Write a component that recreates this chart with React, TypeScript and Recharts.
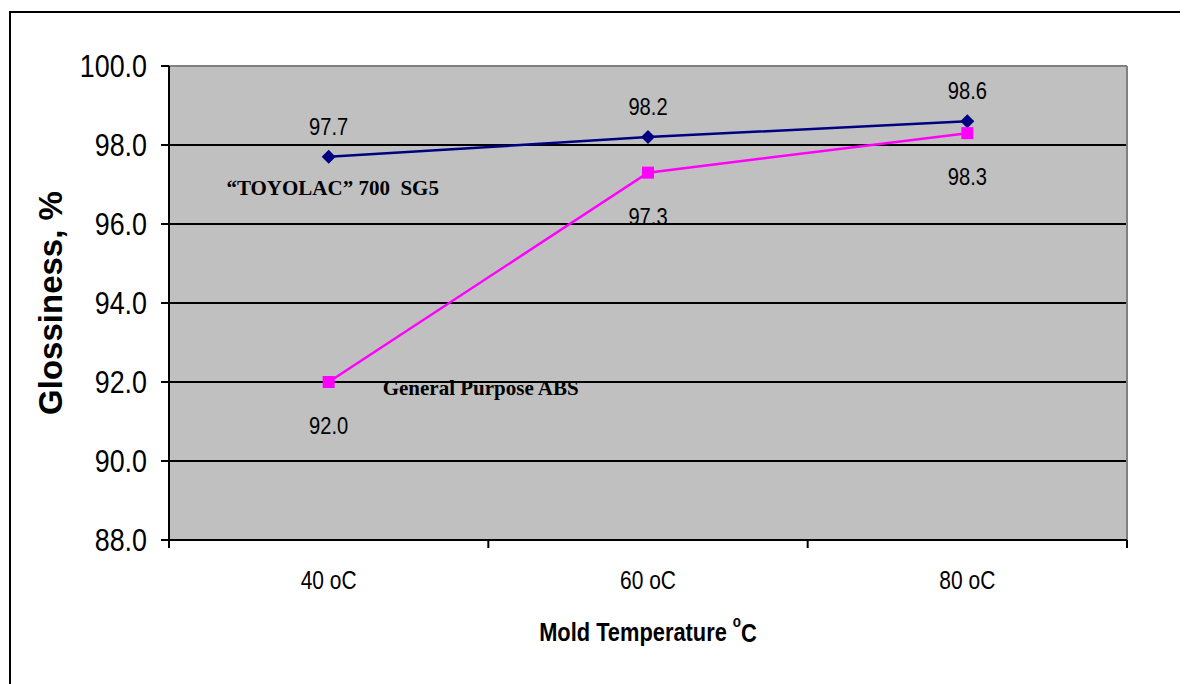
import { LineChart, Line, XAxis, YAxis, CartesianGrid, ReferenceDot, LabelList, Label } from 'recharts';

const temperatures = ['40 oC', '60 oC', '80 oC'];
const toyolac = [97.7, 98.2, 98.6];
const generalAbs = [92.0, 97.3, 98.3];
const yTicks = [88, 90, 92, 94, 96, 98, 100];

const data = temperatures.map((t, i) => ({ temp: t, toyolac: toyolac[i], abs: generalAbs[i] }));

const CHART_W = 1180;
const CHART_H = 676;
const MARGIN = { top: 58, right: 61, left: 0, bottom: 34 };
const YAXIS_W = 161;
const PLOT_W = CHART_W - MARGIN.left - MARGIN.right - YAXIS_W;

const SANS = "'Liberation Sans', Arial, sans-serif";
const SERIF = "'Liberation Serif', 'Times New Roman', serif";
const SQUEEZE = 0.84; // the original uses a narrow Arial; no narrow face here, so squeeze it

const NarrowText = ({ x, y, size, bold, anchor = 'middle', children }: any) => (
  <g transform={`translate(${x},${y}) scale(${SQUEEZE},1)`}>
    <text
      x={0}
      y={0}
      textAnchor={anchor}
      dominantBaseline="central"
      fontFamily={SANS}
      fontWeight={bold ? 'bold' : 'normal'}
      fontSize={size}
      fill="#000"
    >
      {children}
    </text>
  </g>
);

const Diamond = ({ cx, cy }: any) => (
  <path d={`M${cx},${cy - 7}L${cx + 7},${cy}L${cx},${cy + 7}L${cx - 7},${cy}Z`} fill="#000080" />
);

const Square = ({ cx, cy }: any) => (
  <rect x={cx - 6} y={cy - 6} width={12} height={12} fill="#FF00FF" />
);

// ticks sit on the category edges, labels at the centres (Excel style)
const BandTick = (props: any) => {
  const { x, y, payload, index } = props;
  const band = PLOT_W / temperatures.length;
  const left = x - band / 2;
  return (
    <g>
      <line x1={left} y1={y} x2={left} y2={y + 8} stroke="#000" strokeWidth={2} />
      {index === temperatures.length - 1 && (
        <line x1={x + band / 2} y1={y} x2={x + band / 2} y2={y + 8} stroke="#000" strokeWidth={2} />
      )}
      <NarrowText x={x} y={y + 40} size={25}>{payload.value}</NarrowText>
    </g>
  );
};

const ValueTick = (props: any) => {
  const { x, y, payload } = props;
  return (
    <NarrowText x={x} y={y} size={32} anchor="end">{Number(payload.value).toFixed(1)}</NarrowText>
  );
};

const valueLabel = (dy: number) => (props: any) => {
  const { x, y, value } = props;
  return <NarrowText x={x} y={y + dy} size={24}>{Number(value).toFixed(1)}</NarrowText>;
};

const seriesNote = (text: string, dx: number, anchor: string) => (props: any) => {
  const { viewBox } = props;
  const cx = viewBox.x + viewBox.width / 2;
  const cy = viewBox.y + viewBox.height / 2;
  return (
    <text
      x={cx + dx}
      y={cy}
      textAnchor={anchor}
      dominantBaseline="central"
      fontFamily={SERIF}
      fontWeight="bold"
      fontSize={21}
      fill="#000"
      style={{ whiteSpace: 'pre' }}
    >
      {text}
    </text>
  );
};

export default function App() {
  return (
    <div style={{ position: 'relative', width: CHART_W, height: CHART_H, overflow: 'hidden', background: '#fff' }}>
      <div
        style={{
          position: 'absolute',
          left: 1,
          top: 3,
          width: 1400,
          height: 1000,
          borderTop: '2px solid #000',
          borderLeft: '2px solid #000',
        }}
      />
      <div style={{ position: 'absolute', left: 0, top: 0 }}>
        <LineChart width={CHART_W} height={CHART_H} data={data} margin={MARGIN}>
          <CartesianGrid vertical={false} stroke="#000" strokeWidth={2} fill="#C0C0C0" fillOpacity={1} />
          <CartesianGrid
            stroke="#808080"
            strokeWidth={2}
            horizontalCoordinatesGenerator={({ offset }: any) => [offset.top]}
            verticalCoordinatesGenerator={({ offset }: any) => [offset.left + offset.width]}
          />
          <XAxis
            dataKey="temp"
            scale="band"
            height={110}
            stroke="#000"
            strokeWidth={2}
            tickLine={false}
            tickSize={0}
            tickMargin={0}
            tick={<BandTick />}
            interval={0}
          >
            <Label
              content={({ viewBox }: any) => (
                <g transform={`translate(${viewBox.x + viewBox.width / 2},${viewBox.y + 92}) scale(${SQUEEZE},1)`}>
                  <text
                    x={0}
                    y={0}
                    textAnchor="middle"
                    dominantBaseline="central"
                    fontFamily={SANS}
                    fontWeight="bold"
                    fontSize={26}
                    fill="#000"
                  >
                    Mold Temperature <tspan fontSize={16} dy={-10}>o</tspan>
                    <tspan dy={10}>C</tspan>
                  </text>
                </g>
              )}
            />
          </XAxis>
          <YAxis
            domain={[88, 100]}
            ticks={yTicks}
            width={YAXIS_W}
            stroke="#000"
            strokeWidth={2}
            tickSize={8}
            tickMargin={14}
            tick={<ValueTick />}
          >
            <Label
              content={({ viewBox }: any) => {
                const x = 42;
                const y = viewBox.y + viewBox.height / 2;
                return (
                  <text
                    x={x}
                    y={y}
                    transform={`rotate(-90, ${x}, ${y})`}
                    textAnchor="middle"
                    dominantBaseline="central"
                    fontFamily={SANS}
                    fontWeight="bold"
                    fontSize={33}
                    fill="#000"
                  >
                    Glossiness, %
                  </text>
                );
              }}
            />
          </YAxis>
          <Line
            dataKey="toyolac"
            stroke="#000080"
            strokeWidth={2.5}
            dot={<Diamond />}
            activeDot={false}
            isAnimationActive={false}
          >
            <LabelList dataKey="toyolac" content={valueLabel(-30)} />
          </Line>
          <Line
            dataKey="abs"
            stroke="#FF00FF"
            strokeWidth={2.5}
            dot={<Square />}
            activeDot={false}
            isAnimationActive={false}
          >
            <LabelList dataKey="abs" content={valueLabel(44)} />
          </Line>
          <ReferenceDot x={temperatures[0]} y={96.9} r={0} stroke="none" label={seriesNote('\u201CTOYOLAC\u201D 700  SG5', 4, 'middle')} />
          <ReferenceDot x={temperatures[0]} y={91.85} r={0} stroke="none" label={seriesNote('General Purpose ABS', 54, 'start')} />
        </LineChart>
      </div>
    </div>
  );
}
